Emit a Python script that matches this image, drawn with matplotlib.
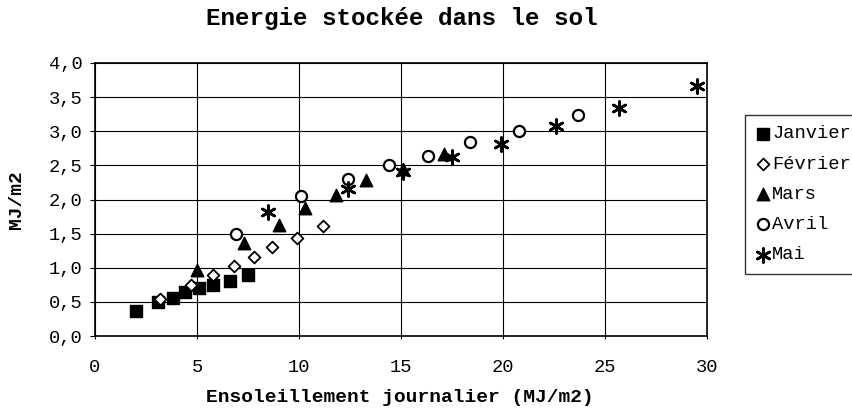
"""Energie stockée dans le sol - scatter per month."""

import matplotlib

matplotlib.use("Agg")
import matplotlib.pyplot as plt
from matplotlib.ticker import FuncFormatter

# Données (MJ/m2)
janvier_x = [2.0, 3.1, 3.8, 4.4, 5.1, 5.8, 6.6, 7.5]
janvier_y = [0.37, 0.50, 0.56, 0.64, 0.70, 0.75, 0.81, 0.89]
fevrier_x = [3.2, 4.7, 5.8, 6.8, 7.8, 8.7, 9.9, 11.2]
fevrier_y = [0.54, 0.74, 0.89, 1.03, 1.16, 1.31, 1.44, 1.61]
mars_x = [5.0, 7.3, 9.0, 10.3, 11.8, 13.3, 15.1, 17.1]
mars_y = [0.97, 1.36, 1.63, 1.87, 2.07, 2.29, 2.45, 2.66]
avril_x = [6.9, 10.1, 12.4, 14.4, 16.3, 18.4, 20.8, 23.7]
avril_y = [1.49, 2.05, 2.30, 2.51, 2.64, 2.84, 3.01, 3.24]
mai_x = [8.5, 12.4, 15.1, 17.5, 19.9, 22.6, 25.7, 29.5]
mai_y = [1.81, 2.16, 2.40, 2.63, 2.82, 3.07, 3.34, 3.67]

plt.rcParams["font.family"] = ["Liberation Mono", "DejaVu Sans Mono"]

W, H = 852, 417
fig = plt.figure(figsize=(W / 100, H / 100), dpi=100)
ax = fig.add_axes([95 / W, (H - 336) / H, 612 / W, 273 / H])

ax.scatter(janvier_x, janvier_y, marker="s", s=9**2, color="black", label="Janvier", zorder=3)
ax.scatter(fevrier_x, fevrier_y, marker="D", s=6**2, facecolor="white",
           edgecolor="black", linewidth=1.3, label="Février", zorder=3)
ax.scatter(mars_x, mars_y, marker="^", s=9**2, color="black", label="Mars", zorder=3)
ax.scatter(avril_x, avril_y, marker="o", s=8**2, facecolor="white",
           edgecolor="black", linewidth=1.6, label="Avril", zorder=3)
ax.scatter(mai_x, mai_y, marker=(6, 2, 0), s=10**2, color="black",
           linewidth=1.9, label="Mai", zorder=3)

ax.set_xlim(0, 30)
ax.set_ylim(0, 4)
ax.set_xticks(range(0, 31, 5))
ax.set_yticks([i * 0.5 for i in range(9)])
ax.yaxis.set_major_formatter(FuncFormatter(lambda v, _: f"{v:.1f}".replace(".", ",")))
ax.grid(True, color="black", linewidth=0.8)
ax.set_axisbelow(True)
for spine in ax.spines.values():
    spine.set_color("black")
    spine.set_linewidth(1.2)
ax.tick_params(axis="y", direction="out", length=3.6, width=0.8, pad=5.5,
               labelsize=13.5, colors="black")
ax.tick_params(axis="x", direction="out", length=2.2, width=0.8, pad=14,
               labelsize=13.5, colors="black")

fig.text(402 / W, 1 - 18 / H, "Energie stockée dans le sol", ha="center", va="center",
         fontsize=17.5, fontweight="bold")
fig.text(400 / W, 1 - 397 / H, "Ensoleillement journalier (MJ/m2)", ha="center",
         va="center", fontsize=14, fontweight="bold")
fig.text(17 / W, 1 - 200 / H, "MJ/m2", ha="center", va="center", rotation=90,
         fontsize=14, fontweight="bold")

leg = fig.legend(loc="upper left", bbox_to_anchor=(745 / W, (H - 115) / H),
                 frameon=True, fancybox=False, edgecolor="black", fontsize=13.5,
                 handletextpad=0.1, borderpad=0.55, labelspacing=0.7, handlelength=0.8,
                 borderaxespad=0)
leg.get_frame().set_linewidth(1.0)

fig.savefig("out.png", dpi=100)
